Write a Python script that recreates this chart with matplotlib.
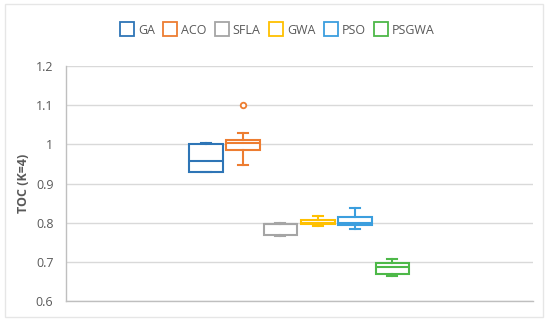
import matplotlib.pyplot as plt
from matplotlib.lines import Line2D
from matplotlib.patches import Rectangle

# Box plot summary values
methods = ['GA', 'ACO', 'SFLA', 'GWA', 'PSO', 'PSGWA']
whisker_low = [0.930, 0.948, 0.765, 0.792, 0.785, 0.665]
q1 = [0.930, 0.985, 0.768, 0.797, 0.795, 0.668]
median = [0.957, 1.003, 0.797, 0.800, 0.798, 0.688]
q3 = [1.002, 1.012, 0.797, 0.806, 0.814, 0.698]
whisker_high = [1.003, 1.028, 0.799, 0.816, 0.837, 0.707]
outliers = [[], [1.10], [], [], [], []]
colors = ['#2E75B6', '#ED7D31', '#A5A5A5', '#FFC000', '#3B9EDE', '#4DB848']
y_ticks = [0.6, 0.7, 0.8, 0.9, 1.0, 1.1, 1.2]
y_tick_labels = ['0.6', '0.7', '0.8', '0.9', '1', '1.1', '1.2']

plt.rcParams['font.family'] = ['Open Sans', 'DejaVu Sans']
text_color = '#595959'

fig = plt.figure(figsize=(5.5, 3.24), dpi=100)
ax = fig.add_axes([0.12, 0.071, 0.849, 0.725])

for i, m in enumerate(methods):
    stats = [{
        'label': m, 'whislo': whisker_low[i], 'q1': q1[i], 'med': median[i],
        'q3': q3[i], 'whishi': whisker_high[i], 'fliers': outliers[i],
    }]
    c = colors[i]
    ax.bxp(stats, positions=[i], widths=0.9, patch_artist=True,
           boxprops=dict(facecolor='white', edgecolor=c, linewidth=1.5),
           medianprops=dict(color=c, linewidth=1.5),
           whiskerprops=dict(color=c, linewidth=1.5),
           capprops=dict(color=c, linewidth=1.5),
           flierprops=dict(marker='o', markersize=4, markerfacecolor='white',
                           markeredgecolor=c, markeredgewidth=1.3),
           capwidths=0.27, zorder=3)

ax.set_xlim(2.5 - 6.25, 2.5 + 6.27)
ax.set_ylim(0.6, 1.2)
ax.set_yticks(y_ticks)
ax.set_yticklabels(y_tick_labels, color=text_color, fontsize=9)
ax.set_xticks([])
ax.tick_params(axis='y', length=0, pad=9)
ax.grid(axis='y', color='#D9D9D9', linewidth=1.0, zorder=0)
ax.set_axisbelow(True)
for s in ['top', 'right']:
    ax.spines[s].set_visible(False)
for s in ['left', 'bottom']:
    ax.spines[s].set_color('#BFBFBF')
    ax.spines[s].set_linewidth(1.0)
ax.set_ylabel('TOC (K=4)', color=text_color, fontsize=9, fontweight='bold', labelpad=4)

handles = [Line2D([], [], linestyle='none', marker='s', markersize=10,
                  markerfacecolor='white', markeredgecolor=c, markeredgewidth=1.3)
           for c in colors]
leg = fig.legend(handles, methods, loc='center', bbox_to_anchor=(0.505, 0.907),
                 ncol=6, frameon=False, fontsize=9, handletextpad=0.35,
                 columnspacing=0.75, handlelength=1.0)
for t in leg.get_texts():
    t.set_color(text_color)

# faint chart border
fig.patches.append(Rectangle((0.009, 0.022), 0.979, 0.966, transform=fig.transFigure,
                             fill=False, edgecolor='#E6E6E6', linewidth=1.0))

fig.savefig('out.png', dpi=100)
